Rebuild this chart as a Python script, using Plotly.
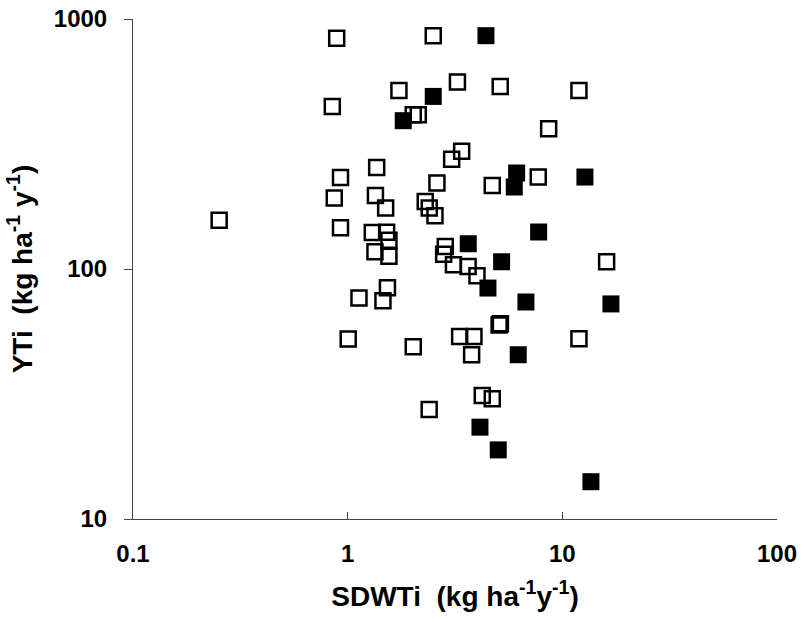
import plotly.graph_objects as go

# Open squares
open_x = [0.252, 0.889, 0.848, 0.926, 0.866, 0.926, 1.006, 1.365, 1.347, 1.503,
          1.302, 1.519, 1.557, 1.340, 1.557, 1.532, 1.129, 1.460, 1.733, 2.021,
          2.133, 2.504, 3.246, 5.137, 11.95, 8.636, 3.396, 3.051, 2.605, 2.298,
          2.399, 2.551, 2.849, 2.800, 3.110, 3.641, 4.002, 4.716, 7.723, 16.08,
          5.076, 5.147, 3.324, 3.875, 2.021, 3.780, 11.95, 4.237, 4.716, 2.397]
open_y = [156.5, 837.9, 447.0, 232.4, 192.3, 146.3, 52.5, 254.9, 197.0, 175.4,
          140.0, 140.4, 130.4, 117.3, 112.5, 84.2, 76.6, 74.6, 518.1, 414.2,
          414.2, 857.7, 559.8, 537.6, 518.1, 364.0, 296.0, 275.0, 220.8, 186.4,
          175.4, 163.4, 123.1, 114.6, 104.0, 102.4, 94.0, 216.0, 233.3, 106.9,
          59.7, 60.4, 53.7, 53.7, 48.9, 45.4, 52.6, 31.2, 30.3, 27.4]

# Filled squares
fill_x = [4.408, 2.504, 1.815, 6.125, 5.970, 12.74, 7.757, 3.645, 5.214, 4.503,
          6.766, 16.84, 6.231, 4.133, 5.029, 13.59]
fill_y = [857.7, 490.2, 392.0, 242.1, 212.8, 233.3, 140.6, 126.2, 106.9, 83.9,
          73.8, 72.5, 45.4, 23.3, 18.9, 14.1]

x_ticks = [0.1, 1, 10, 100]
x_tick_labels = ["0.1", "1", "10", "100"]
y_ticks = [10, 100, 1000]
y_tick_labels = ["10", "100", "1000"]

FONT = "Liberation Sans, Arial, sans-serif"

fig = go.Figure()
fig.add_trace(go.Scatter(
    x=open_x, y=open_y, mode="markers",
    marker=dict(symbol="square-open", size=15, color="black",
                line=dict(width=2.5, color="black")),
    showlegend=False, hoverinfo="x+y"))
fig.add_trace(go.Scatter(
    x=fill_x, y=fill_y, mode="markers",
    marker=dict(symbol="square", size=17, color="black",
                line=dict(width=0)),
    showlegend=False, hoverinfo="x+y"))

fig.update_layout(
    width=804, height=622,
    margin=dict(l=133, r=27, t=19, b=103),
    paper_bgcolor="white", plot_bgcolor="white",
    font=dict(family=FONT, color="black"),
    xaxis=dict(
        type="log", range=[-1, 2], automargin=False,
        tickmode="array", tickvals=x_ticks, ticktext=x_tick_labels,
        ticks="inside", ticklen=7, tickwidth=1, tickcolor="#444",
        showline=True, linecolor="#444", linewidth=1,
        showgrid=False, zeroline=False,
        tickfont=dict(family=FONT, size=24, color="black", weight="bold"),
        ticklabelstandoff=13, ticklabeloverflow="allow",
        title=dict(text="<b>SDWTi  (kg ha<sup>-1</sup>y<sup>-1</sup>)</b>",
                   font=dict(family=FONT, size=28, color="black"),
                   standoff=20),
    ),
    yaxis=dict(
        type="log", range=[1, 3], automargin=False,
        tickmode="array", tickvals=y_ticks, ticktext=y_tick_labels,
        ticks="outside", ticklen=8, tickwidth=1, tickcolor="#444",
        showline=True, linecolor="#444", linewidth=1,
        showgrid=False, zeroline=False,
        tickfont=dict(family=FONT, size=24, color="black", weight="bold"),
        ticklabelstandoff=12, ticklabeloverflow="allow",
        title=dict(text="<b>YTi  (kg ha<sup>-1</sup> y<sup>-1</sup>)</b>",
                   font=dict(family=FONT, size=28, color="black"),
                   standoff=13),
    ),
)

fig.write_html("out.html", config={"displayModeBar": False},
               post_script="document.body.style.margin='0px';")
